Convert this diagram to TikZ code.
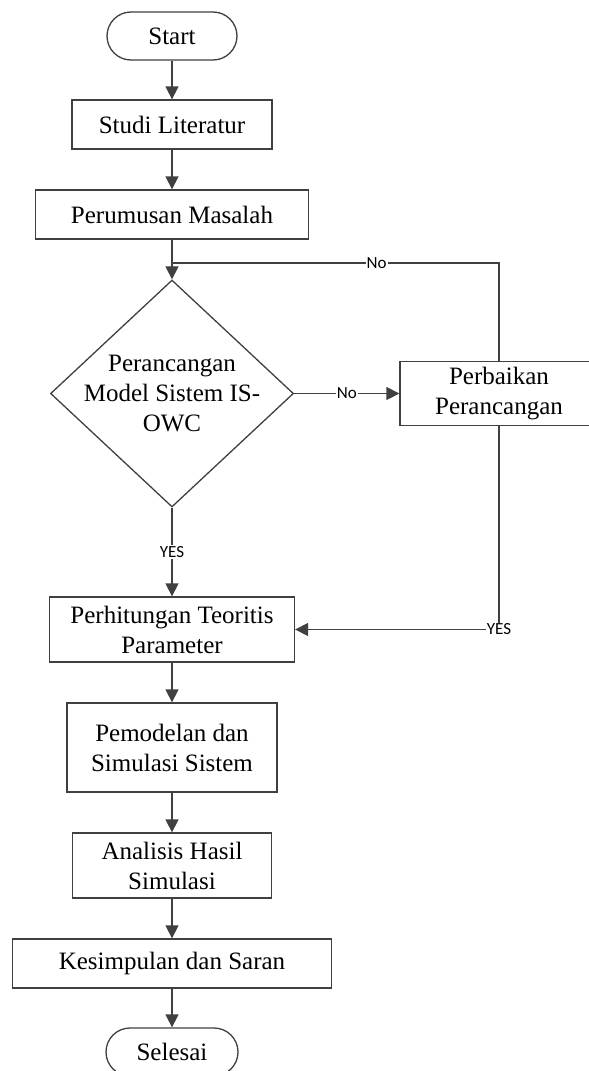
\documentclass[tikz,border=0pt]{standalone}
\usepackage{fontspec}
\setmainfont{Liberation Serif}
\newfontfamily\lblfont{Carlito}
\usetikzlibrary{shapes.geometric,arrows.meta}
\definecolor{linec}{HTML}{404040}
\tikzset{
  box/.style={draw=linec, line width=1.3pt, fill=white, align=center,
              font=\fontsize{25}{30}\selectfont, inner sep=0pt, text=black},
  term/.style={box, rounded corners=24pt},
  arr/.style={draw=linec, line width=1.3pt, -{Triangle[length=13pt,width=13pt]}},
  ln/.style={draw=linec, line width=1.3pt},
  lbl/.style={fill=white, inner sep=1pt, text=black,
              font=\lblfont\fontsize{17}{17}\selectfont}
}
\begin{document}
\begin{tikzpicture}[x=1pt,y=-1pt]
\useasboundingbox (0,0) rectangle (589,1071);
\clip (0,0) rectangle (589,1071);
\fill[white] (0,0) rectangle (589,1071);

\node[term, minimum width=130pt, minimum height=48pt] (start) at (172,36) {Start};
\node[box, minimum width=200pt, minimum height=49pt] (studi) at (172,124.5) {Studi Literatur};
\node[box, minimum width=273pt, minimum height=49pt] (rumus) at (172,214.5) {Perumusan Masalah};
\node[diamond, draw=linec, line width=1.3pt, fill=white, minimum width=243pt, minimum height=227pt, inner sep=0pt,
      label={[align=center, font=\fontsize{25}{30}\selectfont, text=black]center:Perancangan\\Model Sistem IS-\\OWC}] (dec) at (172,393.5) {};
\node[box, minimum width=198pt, minimum height=64pt] (fix) at (499,393.5) {Perbaikan\\Perancangan};
\node[box, minimum width=245pt, minimum height=65pt] (hitung) at (172,629.5) {Perhitungan Teoritis\\Parameter};
\node[box, minimum width=210pt, minimum height=89pt] (model) at (172,747.5) {Pemodelan dan\\Simulasi Sistem};
\node[box, minimum width=199pt, minimum height=65pt] (analisis) at (172,865.5) {Analisis Hasil\\Simulasi};
\node[box, minimum width=319pt, minimum height=49pt] (simpul) at (172,963.5) {Kesimpulan dan Saran};
\node[term, minimum width=132pt, minimum height=48pt] (selesai) at (172,1052) {Selesai};

\coordinate (join) at (172,263);

\draw[arr] (start) -- (studi);
\draw[arr] (studi) -- (rumus);
\draw[arr] (rumus) -- (dec);
\draw[arr] (dec) -- node[lbl]{No} (fix);
\draw[arr] (dec) -- node[lbl]{YES} (hitung);
\draw[ln] (fix.north) |- node[lbl, pos=0.687]{No} (join);
\draw[arr] (fix.south) |- node[lbl, pos=0.5]{YES} (hitung.east);
\draw[arr] (hitung) -- (model);
\draw[arr] (model) -- (analisis);
\draw[arr] (analisis) -- (simpul);
\draw[arr] (simpul) -- (selesai);
\end{tikzpicture}
\end{document}
